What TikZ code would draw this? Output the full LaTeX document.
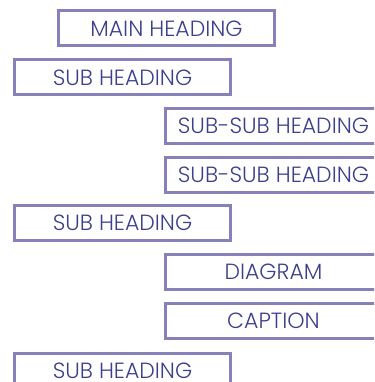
\documentclass[tikz,border=0pt]{standalone}
\usepackage{fontspec}
\setmainfont{Poppins}[UprightFont=* Light]
\definecolor{boxline}{RGB}{134,129,184}
\definecolor{boxtext}{RGB}{60,63,140}
\begin{document}
\begin{tikzpicture}[x=1pt,y=-1pt,
  hbox/.style={draw=boxline, line width=3pt, minimum width=216pt, minimum height=35pt,
    inner sep=0pt, text=boxtext, font=\fontsize{22}{26}\selectfont, anchor=center}]
\useasboundingbox (0,0) rectangle (374,382);
\clip (0,0) rectangle (374,382);
\node[hbox] (main) at (166.5,28.5) {MAIN HEADING};
\node[hbox] (sub1) at (122.5,77.5) {SUB HEADING};
\node[hbox] (ss1) at (273.5,126) {SUB-SUB HEADING};
\node[hbox] (ss2) at (273.5,174.5) {SUB-SUB HEADING};
\node[hbox] (sub2) at (122.5,223) {SUB HEADING};
\node[hbox] (diag) at (273.5,272) {DIAGRAM};
\node[hbox] (cap) at (273.5,320.5) {CAPTION};
\node[hbox] (sub3) at (122.5,370.5) {SUB HEADING};
\end{tikzpicture}
\end{document}
